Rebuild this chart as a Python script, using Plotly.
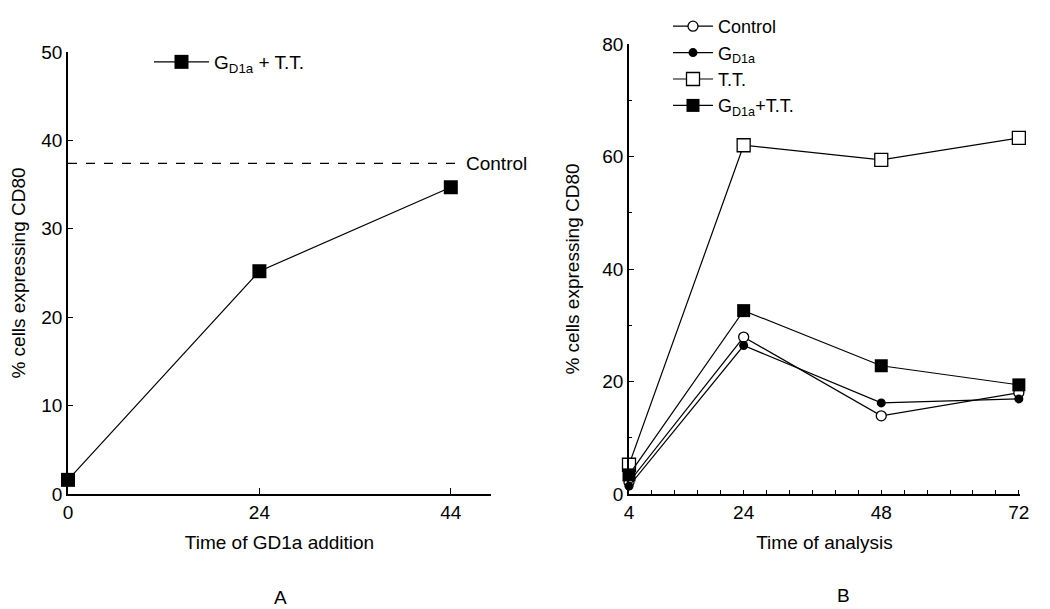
import plotly.graph_objects as go

# Panel A data
a_time_labels = ["0", "24", "44"]
a_gd1a_tt = [1.6, 25.2, 34.7]
a_control_level = 37.4

# Panel B data
b_times = [4, 24, 48, 72]
b_control = [2.1, 27.9, 13.9, 18.0]
b_gd1a = [1.4, 26.4, 16.2, 16.9]
b_tt = [5.2, 62.0, 59.4, 63.3]
b_gd1a_tt = [3.4, 32.6, 22.8, 19.4]

FONT = "Liberation Sans, Arial, sans-serif"
FS = 19
W, H = 1050, 609
OX, OY = 8, 8  # page body margin offset

def px_x(p):
    return (p - OX) / W

def px_y(p):
    return 1 - (p - OY) / H

fig = go.Figure()

line = dict(color="black", width=1.2)

fig.add_trace(go.Scatter(
    x=a_time_labels, y=a_gd1a_tt, mode="lines+markers",
    name="G<sub>D1a</sub> + T.T.", line=line,
    marker=dict(symbol="square", size=14, color="black"),
    xaxis="x", yaxis="y", legend="legend", cliponaxis=False))

fig.add_trace(go.Scatter(
    x=b_times, y=b_control, mode="lines+markers", name="Control", line=line,
    marker=dict(symbol="circle", size=10, color="white", line=dict(color="black", width=1.3)),
    xaxis="x2", yaxis="y2", legend="legend2", cliponaxis=False))
fig.add_trace(go.Scatter(
    x=b_times, y=b_gd1a, mode="lines+markers", name="G<sub>D1a</sub>", line=line,
    marker=dict(symbol="circle", size=9, color="black"),
    xaxis="x2", yaxis="y2", legend="legend2", cliponaxis=False))
fig.add_trace(go.Scatter(
    x=b_times, y=b_tt, mode="lines+markers", name="T.T.", line=line,
    marker=dict(symbol="square", size=13, color="white", line=dict(color="black", width=1.3)),
    xaxis="x2", yaxis="y2", legend="legend2", cliponaxis=False))
fig.add_trace(go.Scatter(
    x=b_times, y=b_gd1a_tt, mode="lines+markers", name="G<sub>D1a</sub>+T.T.", line=line,
    marker=dict(symbol="square", size=13, color="black"),
    xaxis="x2", yaxis="y2", legend="legend2", cliponaxis=False))

# Control reference line in panel A
fig.add_shape(type="line", xref="x domain", yref="y", x0=0, x1=0.915,
              y0=a_control_level, y1=a_control_level,
              line=dict(color="black", width=1.2, dash="dash"))
fig.add_annotation(xref="x domain", yref="y", x=0.935, y=a_control_level,
                   text="Control", showarrow=False, xanchor="left", yanchor="middle",
                   font=dict(family=FONT, size=FS, color="black"))

axis_common = dict(showline=True, linecolor="black", linewidth=1.5, showgrid=False,
                   zeroline=False, ticks="inside", tickcolor="black", automargin=False,
                   tickfont=dict(family=FONT, size=FS, color="black"))

fig.update_layout(
    template="none",
    width=W, height=H,
    margin=dict(l=0, r=0, t=0, b=0, pad=0),
    plot_bgcolor="white", paper_bgcolor="white",
    font=dict(family=FONT, size=FS, color="black"),
    xaxis=dict(domain=[px_x(68), px_x(491)], anchor="y", type="category",
               range=[0, 2.21], ticklen=6, tickwidth=1.3,
               title=dict(text="Time of GD1a addition", standoff=14,
                          font=dict(family=FONT, size=FS)),
               **axis_common),
    yaxis=dict(domain=[px_y(494), px_y(52)], anchor="x", range=[0, 50],
               tickvals=[0, 10, 20, 30, 40, 50], ticklen=5, tickwidth=1.3,
               title=dict(text="% cells expressing CD80", standoff=14,
                          font=dict(family=FONT, size=FS)),
               **axis_common),
    xaxis2=dict(domain=[px_x(629), px_x(1020)], anchor="y2", range=[4, 72.2],
                tickvals=[4, 24, 48, 72], ticklen=4, tickwidth=1,
                minor=dict(ticks="inside", tick0=4, dtick=4, ticklen=4,
                           tickcolor="black", tickwidth=1),
                title=dict(text="Time of analysis", standoff=14,
                           font=dict(family=FONT, size=FS)),
                **axis_common),
    yaxis2=dict(domain=[px_y(494), px_y(44)], anchor="x2", range=[0, 80],
                tickvals=[0, 20, 40, 60, 80], ticklen=5, tickwidth=1.3,
                minor=dict(ticks="inside", tick0=0, dtick=10, ticklen=3,
                           tickcolor="black", tickwidth=1),
                title=dict(text="% cells expressing CD80", standoff=18,
                           font=dict(family=FONT, size=FS)),
                **axis_common),
    legend=dict(x=px_x(149), y=px_y(62), xanchor="left", yanchor="middle",
                bgcolor="rgba(0,0,0,0)", borderwidth=0, itemwidth=55,
                font=dict(family=FONT, size=FS, color="black")),
    legend2=dict(x=px_x(668), y=1.0, xanchor="left", yanchor="top",
                 bgcolor="rgba(0,0,0,0)", borderwidth=0, itemwidth=40,
                 tracegroupgap=0,
                 font=dict(family=FONT, size=18, color="black")),
    showlegend=True,
)

fig.add_annotation(xref="paper", yref="paper", x=px_x(280), y=px_y(597),
                   text="A", showarrow=False, xanchor="center", yanchor="middle",
                   font=dict(family=FONT, size=FS, color="black"))
fig.add_annotation(xref="paper", yref="paper", x=px_x(843), y=px_y(595),
                   text="B", showarrow=False, xanchor="center", yanchor="middle",
                   font=dict(family=FONT, size=FS, color="black"))

fig.write_html("out.html")
